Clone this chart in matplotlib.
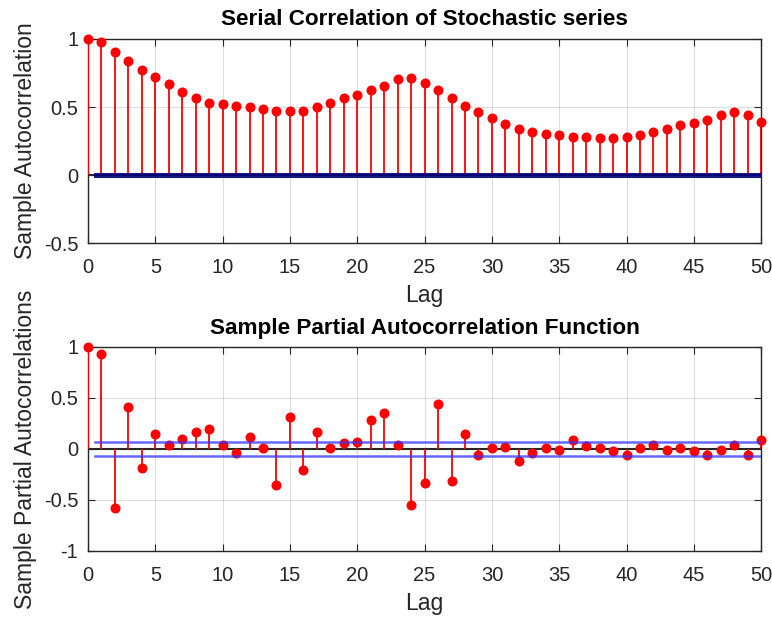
import numpy as np
import matplotlib.pyplot as plt

plt.rcParams['font.family'] = ['Liberation Sans', 'DejaVu Sans']

lags = np.arange(0, 51)

# sample autocorrelation
acf = [1.0, 0.976, 0.907, 0.838, 0.77, 0.723, 0.667, 0.61, 0.566, 0.529,
       0.52, 0.507, 0.5, 0.485, 0.47, 0.47, 0.47, 0.498, 0.529, 0.566,
       0.588, 0.623, 0.654, 0.703, 0.71, 0.68, 0.625, 0.569, 0.507, 0.461,
       0.417, 0.373, 0.336, 0.314, 0.301, 0.292, 0.279, 0.279, 0.27, 0.27,
       0.282, 0.294, 0.316, 0.336, 0.365, 0.382, 0.404, 0.439, 0.461, 0.441,
       0.392]

# sample partial autocorrelation
pacf = [1.0, 0.93, -0.58, 0.41, -0.19, 0.146, 0.04, 0.10, 0.166, 0.193,
        0.04, -0.04, 0.116, 0.006, -0.35, 0.316, -0.207, 0.163, 0.006, 0.056,
        0.073, 0.283, 0.35, 0.04, -0.55, -0.334, 0.443, -0.317, 0.146, -0.057,
        0.006, 0.016, -0.117, -0.04, 0.01, -0.007, 0.083, 0.026, 0.01, -0.024,
        -0.057, 0.01, 0.04, -0.01, 0.01, -0.024, -0.057, -0.007, 0.043, -0.057,
        0.083]

acf_bound = 0.004
pacf_bound = 0.065

txt = '#262626'

fig = plt.figure(figsize=(7.72, 6.19), dpi=100)
ax1 = fig.add_axes([0.114, 0.6074, 0.872, 0.3296])
ax2 = fig.add_axes([0.114, 0.1099, 0.872, 0.3296])


def stem_plot(ax, vals, bound, bound_color, bound_lw, bound_alpha):
    ax.axhline(0, color='#262626', lw=1.5, zorder=2)
    ax.vlines(lags, 0, vals, color='red', lw=1.3, zorder=3)
    ax.plot(lags, vals, 'o', color='red', ms=6.2, zorder=4, clip_on=False)
    ax.plot([0.5, 50], [bound, bound], color=bound_color, lw=bound_lw,
            alpha=bound_alpha, zorder=5)
    ax.plot([0.5, 50], [-bound, -bound], color=bound_color, lw=bound_lw,
            alpha=bound_alpha, zorder=5)
    ax.set_xlim(0, 50)
    ax.set_xticks(range(0, 51, 5))
    ax.grid(True, color='#262626', alpha=0.15, lw=0.8)
    ax.set_axisbelow(True)
    ax.tick_params(direction='in', top=True, right=True, length=5,
                   labelsize=14.5, colors=txt, labelcolor=txt)
    ax.tick_params(axis='x', pad=11)
    ax.tick_params(axis='y', pad=7)
    for s in ax.spines.values():
        s.set_color('#262626')
        s.set_linewidth(1.0)
    ax.set_xlabel('Lag', fontsize=16.5, color=txt, labelpad=5)


stem_plot(ax1, acf, acf_bound, '#00007a', 2.2, 0.9)
ax1.set_ylim(-0.5, 1)
ax1.set_yticks([-0.5, 0, 0.5, 1])
ax1.set_yticklabels(['-0.5', '0', '0.5', '1'])
ax1.set_ylabel('Sample Autocorrelation', fontsize=16.5, color=txt, labelpad=5)
ax1.set_title('Serial Correlation of Stochastic series', fontsize=16.2,
              fontweight='bold', pad=10)

stem_plot(ax2, pacf, pacf_bound, '#3333ff', 1.8, 0.75)
ax2.set_ylim(-1, 1)
ax2.set_yticks([-1, -0.5, 0, 0.5, 1])
ax2.set_yticklabels(['-1', '-0.5', '0', '0.5', '1'])
ax2.set_ylabel('Sample Partial Autocorrelations', fontsize=16.5, color=txt,
               labelpad=5)
ax2.set_title('Sample Partial Autocorrelation Function', fontsize=16.2,
              fontweight='bold', pad=9)

fig.savefig('out.png', dpi=100)
